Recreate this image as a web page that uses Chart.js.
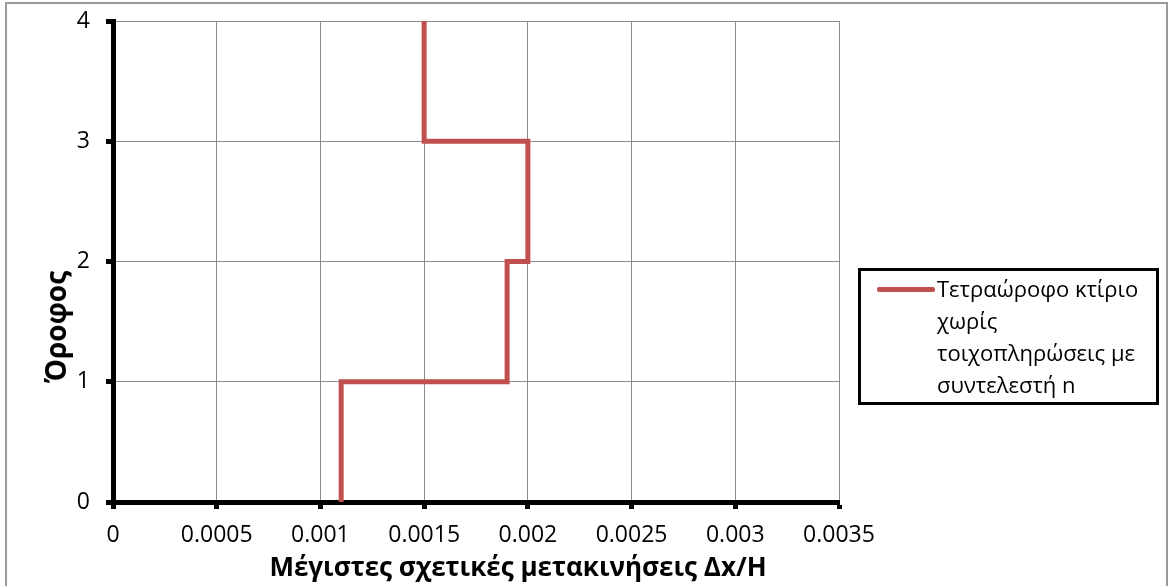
<!DOCTYPE html>
<html>
<head>
<meta charset="utf-8">
<script src="https://cdn.jsdelivr.net/npm/chart.js@4"></script>
<style>
  body { margin: 0; background: #fff; }
  #wrap { position: relative; width: 1168px; height: 586px; overflow: hidden; }
  #frame { position: absolute; left: 5px; top: 2px; width: 1159px; height: 620px; border: 2px solid #9a9a9a; }
  canvas { position: absolute; left: 0; top: 0; }
  #xtitle { position: absolute; left: 518px; top: 548px; transform: translateX(-50%); white-space: nowrap;
    font: bold 26px "Open Sans", sans-serif; color: #000; }
  #ytitle { position: absolute; left: 55px; top: 327px; transform: translate(-50%, -50%) rotate(-90deg); white-space: nowrap;
    font: bold 28px "Open Sans", sans-serif; color: #000; }
  #legend { position: absolute; left: 858px; top: 268px; width: 295px; height: 131px; border: 3px solid #000;
    font: 22px "Open Sans", sans-serif; line-height: 32px; color: #000; }
  #legend .swatch { position: absolute; left: 16px; top: 16px; width: 58px; height: 5px; background: #c0504d; border-radius: 2px; }
  #legend .txt { position: absolute; left: 76px; top: 1px; width: 218px; white-space: nowrap; }
</style>
</head>
<body>
<div id="wrap">
  <div id="frame"></div>
  <canvas id="chart" width="1168" height="586"></canvas>
  <div id="xtitle">Μέγιστες σχετικές μετακινήσεις Δx/H</div>
  <div id="ytitle">Όροφος</div>
  <div id="legend"><div class="swatch"></div><div class="txt">Τετραώροφο κτίριο<br>χωρίς<br>τοιχοπληρώσεις με<br>συντελεστή n</div></div>
</div>
<script>
// Όροφοι (στάθμες) και μέγιστη σχετική μετακίνηση ανά όροφο
const floors = [0, 1, 2, 3, 4];
const drifts = [0.0011, 0.0019, 0.002, 0.0015];
const seriesName = 'Τετραώροφο κτίριο χωρίς τοιχοπληρώσεις με συντελεστή n';
const xTicks = [0, 0.0005, 0.001, 0.0015, 0.002, 0.0025, 0.003, 0.0035];

// κάθε όροφος: κατακόρυφο τμήμα από τη στάθμη i έως i+1
const points = [];
drifts.forEach(function(d, i) {
    points.push({ x: d, y: floors[i] });
    points.push({ x: d, y: floors[i + 1] });
});

const font = { family: '"Open Sans", sans-serif', size: 23 };

new Chart(document.getElementById('chart'), {
    type: 'scatter',
    data: {
        datasets: [{
            label: seriesName,
            data: points,
            showLine: true,
            borderColor: '#c0504d',
            borderWidth: 5,
            pointRadius: 0,
            fill: false
        }]
    },
    options: {
        responsive: false,
        animation: false,
        layout: { padding: { left: 0, top: 21, right: 329, bottom: 0 } },
        plugins: { legend: { display: false }, tooltip: { enabled: false } },
        scales: {
            x: {
                type: 'linear', min: 0, max: 0.0035,
                afterBuildTicks: function(s) { s.ticks = xTicks.map(function(v) { return { value: v }; }); },
                afterFit: function(s) { s.height = 84; },
                ticks: { font: font, color: '#000', padding: 13, maxRotation: 0,
                    callback: function(v) { return String(v); } },
                grid: { color: '#8c8c8c', lineWidth: 1, tickColor: '#000', tickLength: 7, tickWidth: 5 },
                border: { color: '#000', width: 5 }
            },
            y: {
                type: 'linear', min: 0, max: 4,
                afterBuildTicks: function(s) { s.ticks = floors.map(function(v) { return { value: v }; }); },
                afterFit: function(s) { s.width = 113; s.paddingTop = 0; s.paddingBottom = 0; },
                ticks: { font: font, color: '#000', padding: 16 },
                grid: { color: '#8c8c8c', lineWidth: 1, tickColor: '#000', tickLength: 7, tickWidth: 5 },
                border: { color: '#000', width: 5 }
            }
        }
    }
});
</script>
</body>
</html>
